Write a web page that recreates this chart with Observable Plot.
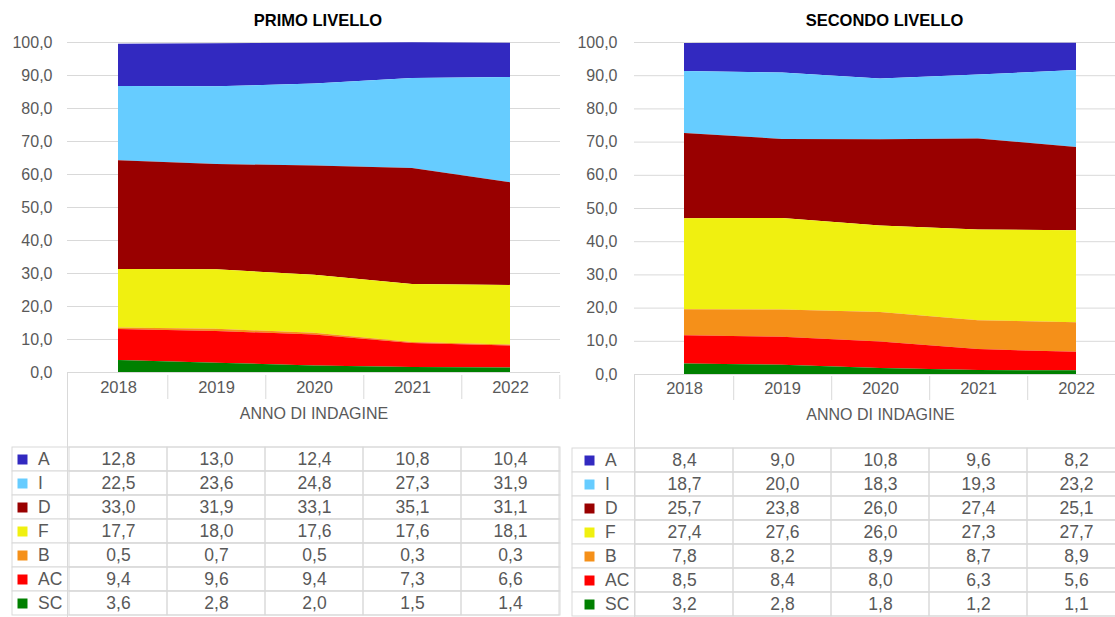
<!DOCTYPE html>
<html><head><meta charset="utf-8">
<script src="https://cdn.jsdelivr.net/npm/d3@7"></script>
<script src="https://cdn.jsdelivr.net/npm/@observablehq/plot@0.6"></script>
<style>
html,body{margin:0;padding:0;background:#fff;overflow:hidden;width:1115px;height:617px;position:relative}
.panel{position:absolute}
.panel svg{max-width:none !important;background:transparent;display:block}
</style></head><body>
<script>
// ---- data ----
const years = [2018, 2019, 2020, 2021, 2022];
const series = ["A", "I", "D", "F", "B", "AC", "SC"];
const seriesColors = ["#3229C0", "#66CCFF", "#990000", "#F0F010", "#F59019", "#FF0000", "#008000"];
const stackOrder = ["SC", "AC", "B", "F", "D", "I", "A"];
const yTicks = [0, 10, 20, 30, 40, 50, 60, 70, 80, 90, 100];
const titles = ["PRIMO LIVELLO", "SECONDO LIVELLO"];
const xTitle = "ANNO DI INDAGINE";

const primoA  = [12.8, 13.0, 12.4, 10.8, 10.4];
const primoI  = [22.5, 23.6, 24.8, 27.3, 31.9];
const primoD  = [33.0, 31.9, 33.1, 35.1, 31.1];
const primoF  = [17.7, 18.0, 17.6, 17.6, 18.1];
const primoB  = [0.5, 0.7, 0.5, 0.3, 0.3];
const primoAC = [9.4, 9.6, 9.4, 7.3, 6.6];
const primoSC = [3.6, 2.8, 2.0, 1.5, 1.4];

const secondoA  = [8.4, 9.0, 10.8, 9.6, 8.2];
const secondoI  = [18.7, 20.0, 18.3, 19.3, 23.2];
const secondoD  = [25.7, 23.8, 26.0, 27.4, 25.1];
const secondoF  = [27.4, 27.6, 26.0, 27.3, 27.7];
const secondoB  = [7.8, 8.2, 8.9, 8.7, 8.9];
const secondoAC = [8.5, 8.4, 8.0, 6.3, 5.6];
const secondoSC = [3.2, 2.8, 1.8, 1.2, 1.1];

const primoRows = [primoA, primoI, primoD, primoF, primoB, primoAC, primoSC];
const secondoRows = [secondoA, secondoI, secondoD, secondoF, secondoB, secondoAC, secondoSC];

// ---- helpers ----
const FONT = "'Liberation Sans', Arial, sans-serif";
const GRID = "#d9d9d9";
const TXT = "#595959";
const fmt = v => v.toFixed(1).replace(".", ",");

function toLong(rows) {
  const out = [];
  series.forEach((s, i) => years.forEach((y, j) => out.push({series: s, year: y, value: rows[i][j]})));
  return out;
}

function chartPlot({data, title, width, height, marginLeft, marginBottom, tickPadding}) {
  return Plot.plot({
    width, height, marginLeft, marginRight: 0, marginTop: 42, marginBottom,
    style: {fontFamily: FONT, background: "transparent", overflow: "visible"},
    x: {type: "point", domain: years, padding: 0.5, axis: null},
    y: {domain: [0, 100], axis: null},
    color: {domain: series, range: seriesColors},
    marks: [
      Plot.gridY(yTicks, {stroke: GRID, strokeOpacity: 1}),
      Plot.areaY(data, Plot.stackY({x: "year", y: "value", z: "series", fill: "series", order: stackOrder, curve: "linear"})),
      Plot.axisY(yTicks, {tickSize: 0, tickPadding, tickFormat: fmt, fontSize: 16, color: TXT, label: null}),
      Plot.text([title], {frameAnchor: "top", dy: -28, dx: 4, text: d => d, fontSize: 16.5, fontWeight: "bold", fill: "#000"})
    ]
  });
}

function tablePlot({data, width, height, marginLeft}) {
  const rows = ["cat", "t1", "t2", ...series];
  const step = (width - marginLeft) / years.length;
  return Plot.plot({
    width, height, marginLeft, marginRight: 0, marginTop: 0, marginBottom: 0,
    style: {fontFamily: FONT, background: "transparent", overflow: "visible"},
    x: {type: "band", domain: years, padding: 0, axis: null},
    y: {type: "band", domain: rows, padding: 0, axis: null},
    color: {domain: series, range: seriesColors},
    marks: [
      Plot.cell(series, {y: d => d, fill: "white", stroke: GRID, insetLeft: -(marginLeft - 12)}),
      Plot.cell(data, {x: "year", y: "series", fill: "none", stroke: GRID}),
      Plot.frame({anchor: "left", stroke: GRID}),
      Plot.tickX(years, {x: d => d, y: () => "cat", dx: step / 2, stroke: GRID}),
      Plot.text(years, {x: d => d, y: () => "cat", text: d => String(d), fontSize: 16.5, fill: TXT}),
      Plot.text([xTitle], {y: () => "t1", frameAnchor: "middle", text: d => d, dy: 2, fontSize: 16, fill: TXT}),
      Plot.text(data, {x: "year", y: "series", text: d => fmt(d.value), fontSize: 17.5, fill: TXT}),
      Plot.dot(series, {y: d => d, frameAnchor: "left", dx: -45, symbol: "square", r: 5.64, fill: d => d}),
      Plot.text(series, {y: d => d, frameAnchor: "left", dx: -29.5, textAnchor: "start", text: d => d, fontSize: 17.5, fill: TXT})
    ]
  });
}

function panel(node, left, top) {
  const div = document.createElement("div");
  div.className = "panel";
  div.style.left = left + "px";
  div.style.top = top + "px";
  div.appendChild(node);
  document.body.appendChild(div);
}

const primoData = toLong(primoRows);
const secondoData = toLong(secondoRows);

panel(chartPlot({data: primoData, title: titles[0], width: 560, height: 373, marginLeft: 67, marginBottom: 1, tickPadding: 15}), 0, 0);
panel(tablePlot({data: primoData, width: 560, height: 245, marginLeft: 67}), 0, 372);
panel(chartPlot({data: secondoData, title: titles[1], width: 566, height: 375, marginLeft: 74, marginBottom: 1, tickPadding: 17}), 560, 0);
panel(tablePlot({data: secondoData, width: 566, height: 243, marginLeft: 74}), 560, 374);
</script>
</body></html>
